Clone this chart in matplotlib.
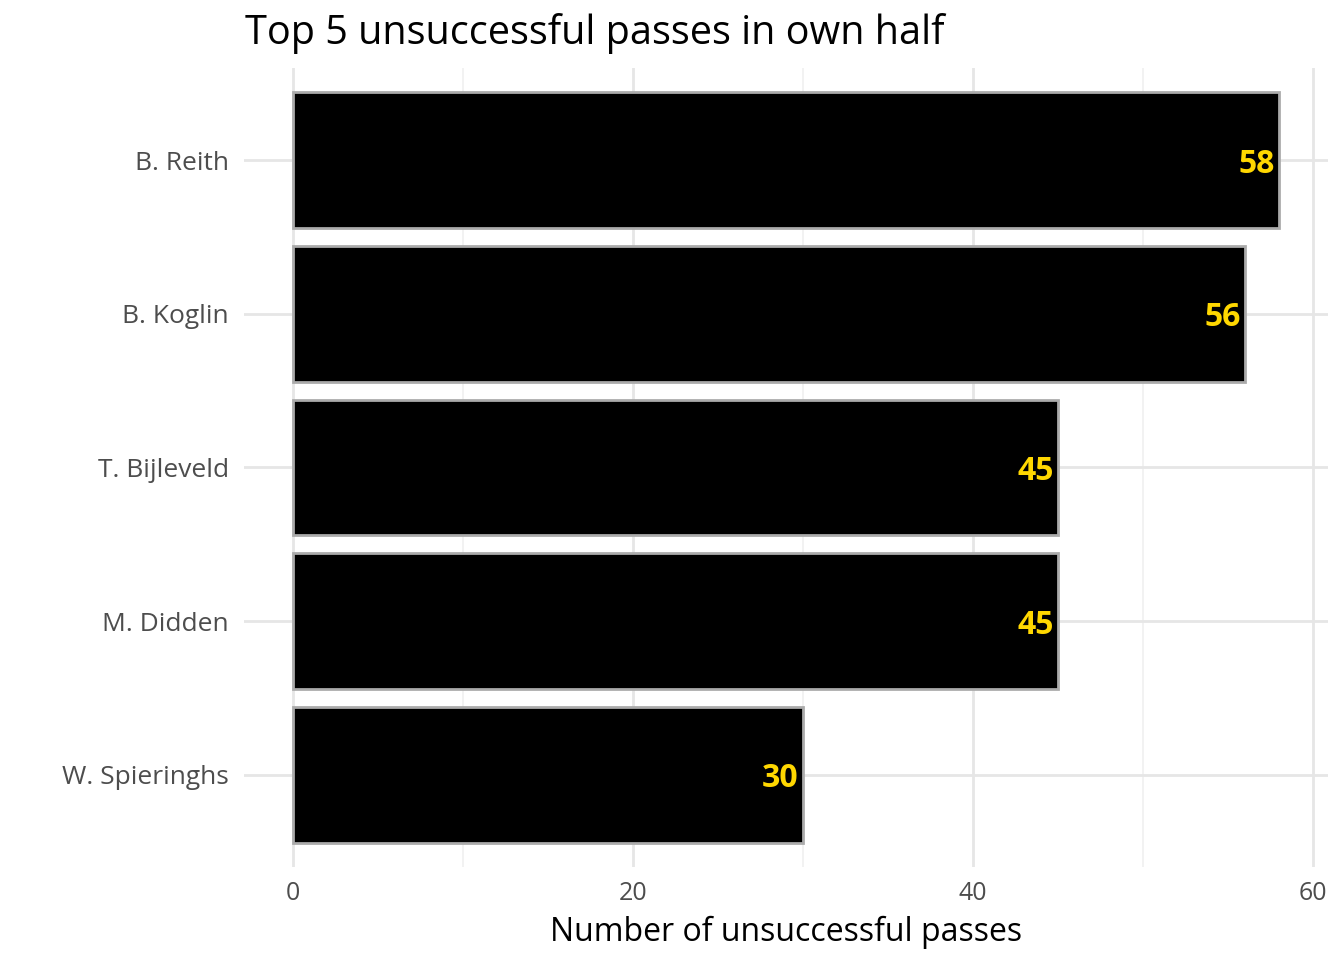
import numpy as np
import matplotlib.pyplot as plt

# data, top to bottom as shown
players = ["B. Reith", "B. Koglin", "T. Bijleveld", "M. Didden", "W. Spieringhs"]
passes = [58, 56, 45, 45, 30]
xticks = [0, 20, 40, 60]

plt.rcParams['font.family'] = ['Open Sans', 'DejaVu Sans']

fig = plt.figure(figsize=(13.44, 9.6), dpi=100)
# panel placed in pixel coords: x 244..1328, y 68..867
ax = fig.add_axes([244 / 1344, 1 - 867 / 960, (1328 - 244) / 1344, (867 - 68) / 960])

ypos = np.arange(len(players))[::-1] + 1
ax.barh(ypos, passes, height=0.885, color="black", edgecolor="#ABABAB", linewidth=2.0, zorder=3)

for y, v in zip(ypos, passes):
    ax.text(v - 0.25, y, str(v), ha="right", va="center_baseline", color="#FFD700",
            fontsize=23, fontweight="bold", zorder=4)

ax.set_xlim(-2.9, 60.9)
ax.set_ylim(0.4, 5.6)
ax.set_yticks(ypos)
ax.set_yticklabels(players)
ax.set_xticks(xticks)
ax.set_xticks([10, 30, 50], minor=True)

for s in ax.spines.values():
    s.set_visible(False)
ax.grid(which="major", color="#E6E6E6", linewidth=2.0, zorder=0)
ax.grid(which="minor", axis="x", color="#F0F0F0", linewidth=1.2, zorder=0)
ax.tick_params(axis="both", which="both", length=0)
ax.tick_params(axis="y", labelsize=19, labelcolor="#4D4D4D", pad=11)
ax.tick_params(axis="x", labelsize=18, labelcolor="#4D4D4D", pad=10)

ax.set_xlabel("Number of unsuccessful passes", fontsize=23, color="black", labelpad=7)
fig.text(245 / 1344, 1 - 34 / 960, "Top 5 unsuccessful passes in own half",
         fontsize=28.5, color="black", ha="left", va="center")

fig.savefig("out.png", dpi=100)
